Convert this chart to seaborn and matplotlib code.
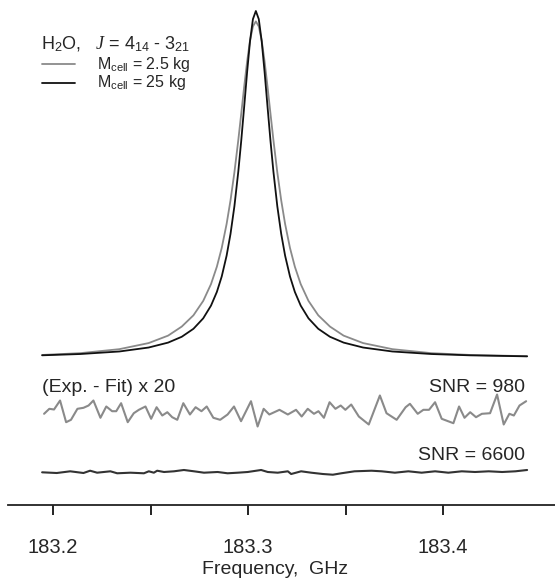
import matplotlib
matplotlib.use("Agg")
import matplotlib.pyplot as plt
from matplotlib.lines import Line2D
import seaborn as sns
import pandas as pd

# line profiles, normalised intensity (peak of the 25 kg trace = 1)
freq_profile = [183.1944, 183.2140, 183.2340, 183.2490, 183.2590, 183.2660, 183.2720,
                183.2770, 183.2810, 183.2840, 183.2865, 183.2890, 183.2910, 183.2930,
                183.2950, 183.2965, 183.2980, 183.2995, 183.3010, 183.3025, 183.3040,
                183.3055, 183.3070, 183.3085, 183.3100, 183.3115, 183.3130, 183.3150,
                183.3170, 183.3190, 183.3215, 183.3240, 183.3270, 183.3310, 183.3360,
                183.3420, 183.3490, 183.3590, 183.3740, 183.3940, 183.4140, 183.4431]
int_25kg = [0.0078, 0.0115, 0.0188, 0.0302, 0.0444, 0.0612, 0.0842, 0.1143, 0.1510,
            0.1904, 0.2350, 0.2949, 0.3576, 0.4374, 0.5374, 0.6259, 0.7233, 0.8229,
            0.9127, 0.9766, 1.0000, 0.9766, 0.9127, 0.8229, 0.7233, 0.6259, 0.5374,
            0.4374, 0.3576, 0.2949, 0.2350, 0.1904, 0.1510, 0.1143, 0.0842, 0.0612,
            0.0444, 0.0302, 0.0188, 0.0115, 0.0077, 0.0048]
int_2p5kg = [0.0088, 0.0140, 0.0255, 0.0430, 0.0645, 0.0906, 0.1231, 0.1645, 0.2130,
             0.2631, 0.3172, 0.3862, 0.4543, 0.5350, 0.6282, 0.7040, 0.7811, 0.8538,
             0.9147, 0.9556, 0.9700, 0.9556, 0.9147, 0.8538, 0.7811, 0.7040, 0.6282,
             0.5350, 0.4543, 0.3862, 0.3172, 0.2631, 0.2130, 0.1645, 0.1231, 0.0906,
             0.0645, 0.0430, 0.0255, 0.0140, 0.0088, 0.0052]

# residuals (Exp. - Fit) x 20, same intensity units
freq_res_2p5 = [183.1954, 183.1981, 183.2005, 183.2036, 183.2067, 183.2092, 183.2125,
                183.2156, 183.2182, 183.2207, 183.2243, 183.2273, 183.2303, 183.2324,
                183.2349, 183.2383, 183.2414, 183.2440, 183.2474, 183.2503, 183.2531,
                183.2560, 183.2586, 183.2611, 183.2637, 183.2668, 183.2702, 183.2731,
                183.2761, 183.2788, 183.2822, 183.2857, 183.2895, 183.2928, 183.2964,
                183.3015, 183.3049, 183.3080, 183.3109, 183.3161, 183.3204, 183.3246,
                183.3275, 183.3306, 183.3338, 183.3361, 183.3389, 183.3418, 183.3448,
                183.3475, 183.3499, 183.3529, 183.3568, 183.3619, 183.3676, 183.3710,
                183.3762, 183.3808, 183.3830, 183.3870, 183.3899, 183.3928, 183.3959,
                183.3993, 183.4053, 183.4082, 183.4110, 183.4139, 183.4169, 183.4199,
                183.4241, 183.4277, 183.4311, 183.4340, 183.4363, 183.4392, 183.4426]
res_2p5kg = [-0.0052, 0.0092, 0.0072, 0.0331, -0.0294, -0.0225, 0.0092, 0.0121, 0.0187,
             0.0331, -0.0167, 0.0159, 0.0023, 0.0023, 0.0254, -0.0294, -0.0035, 0.0063,
             0.0159, -0.0196, 0.0138, -0.0101, -0.0006, -0.0150, -0.0225, 0.0254,
             -0.0072, 0.0138, 0.0023, 0.0159, -0.0167, -0.0225, -0.0072, 0.0159,
             -0.0265, 0.0311, -0.0418, 0.0092, -0.0072, 0.0063, -0.0072, 0.0063,
             -0.0130, 0.0092, -0.0052, 0.0023, -0.0167, 0.0282, 0.0092, 0.0187, 0.0063,
             0.0216, -0.0130, -0.0360, 0.0476, -0.0035, -0.0225, 0.0138, 0.0236,
             -0.0052, 0.0063, 0.0063, 0.0282, -0.0196, -0.0323, 0.0159, -0.0167,
             -0.0006, -0.0150, -0.0052, -0.0035, 0.0504, -0.0360, -0.0052, -0.0101,
             0.0187, 0.0311]

freq_res_25 = [183.1944, 183.2019, 183.2088, 183.2156, 183.2190, 183.2226, 183.2294,
               183.2329, 183.2397, 183.2466, 183.2491, 183.2517, 183.2534, 183.2569,
               183.2620, 183.2671, 183.2723, 183.2774, 183.2844, 183.2895, 183.2947,
               183.2998, 183.3067, 183.3101, 183.3152, 183.3204, 183.3221, 183.3272,
               183.3324, 183.3384, 183.3435, 183.3478, 183.3546, 183.3633, 183.3685,
               183.3753, 183.3822, 183.3890, 183.3959, 183.4027, 183.4096, 183.4164,
               183.4234, 183.4303, 183.4371, 183.4431]
res_25kg = [-0.0009, -0.0029, 0.0020, -0.0029, 0.0037, -0.0020, 0.0020, -0.0037,
            -0.0020, -0.0037, 0.0020, -0.0020, 0.0037, 0.0000, 0.0020, 0.0058, 0.0020,
            -0.0020, 0.0000, -0.0037, -0.0020, 0.0000, 0.0058, 0.0000, -0.0020, 0.0020,
            -0.0058, 0.0020, -0.0020, -0.0058, -0.0078, -0.0037, 0.0020, 0.0037, 0.0020,
            -0.0020, 0.0020, -0.0020, 0.0020, -0.0020, 0.0020, 0.0000, 0.0020, 0.0000,
            0.0020, 0.0058]

labels = [r"M$_{\rm cell}$ = 2.5 kg", r"M$_{\rm cell}$ = 25 kg"]
snr_labels = ["SNR = 980", "SNR = 6600"]
tick_vals = [183.2, 183.3, 183.4]

sns.set_style("white")
plt.rcParams["font.family"] = ["Liberation Sans", "DejaVu Sans"]
plt.rcParams["mathtext.fontset"] = "custom"
plt.rcParams["mathtext.rm"] = "Liberation Sans"
plt.rcParams["mathtext.it"] = "Liberation Serif:italic"

GRAY = "#8a8a8a"
BLACK = "#111111"
W, H = 555, 582
off_gray = -0.1556
off_black = -0.3285

prof = pd.DataFrame({"freq": freq_profile, "m2p5": int_2p5kg, "m25": int_25kg})
r1 = pd.DataFrame({"freq": freq_res_2p5, "res": [v + off_gray for v in res_2p5kg]})
r2 = pd.DataFrame({"freq": freq_res_25, "res": [v + off_black for v in res_25kg]})

fig = plt.figure(figsize=(W / 100, H / 100), dpi=100)
ax = fig.add_axes([8 / W, 77 / H, 547 / W, 505 / H])

sns.lineplot(data=prof, x="freq", y="m2p5", ax=ax, color=GRAY, lw=1.3)
sns.lineplot(data=prof, x="freq", y="m25", ax=ax, color=BLACK, lw=1.3)
sns.lineplot(data=r1, x="freq", y="res", ax=ax, color=GRAY, lw=1.5)
sns.lineplot(data=r2, x="freq", y="res", ax=ax, color="#333333", lw=1.5)

ax.set_xlim(183.1769, 183.4574)
ax.set_ylim(-0.4236, 1.0317)

for s in ["left", "top", "right"]:
    ax.spines[s].set_visible(False)
ax.spines["bottom"].set_linewidth(1.3)
ax.spines["bottom"].set_color("#222222")
ax.set_yticks([])
ax.set_xticks(tick_vals)
ax.set_xticklabels([f"{t:.1f}" for t in tick_vals])
ax.set_xticks([183.25, 183.35], minor=True)
ax.tick_params(axis="x", which="both", direction="out", length=7, width=1.4,
               color="#222222", bottom=True)
ax.tick_params(axis="x", which="major", labelsize=14.5, pad=17)
ax.set_xlabel("")
ax.set_ylabel("")
fig.text(275 / W, 1 - 570 / H, "Frequency,  GHz", fontsize=14, ha="center", va="center")

# title and hand-made legend
fig.text(41 / W, 1 - 44 / H, r"H$_2$O,   $J$ = 4$_{14}$ - 3$_{21}$",
         fontsize=13, ha="left", va="center")
for i, (lab, col) in enumerate(zip(labels, [GRAY, BLACK])):
    y = 1 - (64 + 19 * i) / H
    fig.add_artist(Line2D([42 / W, 75 / W], [y, y], color=col, lw=1.3,
                          transform=fig.transFigure))
    fig.text(97 / W, y, lab, fontsize=11.5, ha="left", va="center")

fig.text(42 / W, 1 - 387 / H, "(Exp. - Fit) x 20", fontsize=14, ha="left", va="center")
fig.text(525 / W, 1 - 387 / H, snr_labels[0], fontsize=14, ha="right", va="center")
fig.text(525 / W, 1 - 455 / H, snr_labels[1], fontsize=14, ha="right", va="center")

fig.savefig("out.png", dpi=100, facecolor="white")
plt.close(fig)
